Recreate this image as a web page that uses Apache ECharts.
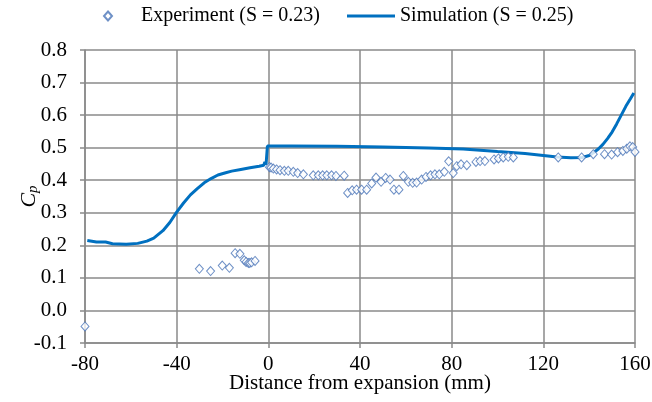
<!DOCTYPE html>
<html>
<head>
<meta charset="utf-8">
<script src="https://cdn.jsdelivr.net/npm/echarts@6/dist/echarts.min.js"></script>
<style>html,body{margin:0;padding:0;background:#fff}#c{width:652px;height:402px}</style>
</head>
<body>
<div id="c"></div>
<script>
// Experiment (S = 0.23)
const expX = [-80, -30.1, -25.2, -20.1, -17.0, -14.5, -12.4, -10.5, -9.7, -8.7, -8.1, -7.3, -5.8,
  0.5, 1.2, 2.2, 3.6, 5.1, 7.0, 8.7, 10.9, 12.8, 15.3,
  19.6, 21.8, 23.7, 25.5, 27.6, 29.5, 33.1,
  34.6, 36.6, 38.5, 40.7, 42.9, 45.1, 47.0, 49.2, 51.2, 53.1, 54.8, 57.0,
  58.9, 61.1, 63.0, 64.7, 66.9, 68.8, 70.8, 72.7, 74.6, 76.8, 78.7, 80.7, 82.2, 84.1, 86.6,
  90.6, 92.4, 94.5, 98.5, 100.4, 102.5, 104.7, 106.9,
  126.5, 136.7, 141.8, 146.7, 149.8, 152.4, 154.7, 156.4, 157.8, 159.0, 160.0];
const expY = [-0.049, 0.128, 0.121, 0.138, 0.131, 0.176, 0.174, 0.154, 0.149, 0.146, 0.146, 0.148, 0.152,
  0.440, 0.439, 0.436, 0.433, 0.431, 0.429, 0.429, 0.426, 0.422, 0.418,
  0.415, 0.415, 0.415, 0.415, 0.415, 0.413, 0.414,
  0.361, 0.369, 0.371, 0.371, 0.371, 0.390, 0.408, 0.395, 0.407, 0.402, 0.371, 0.371,
  0.413, 0.395, 0.392, 0.393, 0.402, 0.410, 0.415, 0.418, 0.418, 0.426, 0.458, 0.422, 0.443, 0.449, 0.446,
  0.456, 0.459, 0.459, 0.464, 0.467, 0.470, 0.472, 0.470,
  0.470, 0.470, 0.480, 0.480, 0.479, 0.486, 0.490, 0.497, 0.504, 0.502, 0.487];

// Simulation (S = 0.25)
const simX = [-79, -75, -71, -68, -62, -57, -53, -50, -46, -43, -40, -37, -34, -31, -28, -25, -22, -19, -16, -12, -8, -4, -2, -1.5, -1, -0.6, -0.4,
  10, 30, 50, 70, 85, 100, 112, 120, 126, 132, 137, 140, 142, 144, 146, 148, 150, 152, 154, 156, 158, 159.5];
const simY = [0.215, 0.210, 0.210, 0.205, 0.203, 0.206, 0.213, 0.222, 0.245, 0.270, 0.302, 0.330, 0.355, 0.374, 0.392, 0.405, 0.416, 0.422, 0.428, 0.433, 0.438, 0.443, 0.446, 0.456, 0.448, 0.450, 0.505,
  0.505, 0.504, 0.502, 0.499, 0.496, 0.488, 0.482, 0.476, 0.471, 0.469, 0.470, 0.476, 0.485, 0.496, 0.510, 0.528, 0.548, 0.573, 0.600, 0.627, 0.650, 0.668];

const xTicks = [-80, -40, 0, 40, 80, 120, 160];
const yTicks = [-0.1, 0.0, 0.1, 0.2, 0.3, 0.4, 0.5, 0.6, 0.7, 0.8];

const FONT = 'Liberation Serif';
const GRID = '#8a8a8a';
const chart = echarts.init(document.getElementById('c'), null, {renderer: 'canvas'});
chart.setOption({
  animation: false,
  backgroundColor: '#fff',
  textStyle: {fontFamily: FONT},
  legend: [
    {data: ['Experiment (S = 0.23)'], left: 98, top: 1, icon: 'diamond', itemWidth: 8, itemHeight: 9,
     textStyle: {fontFamily: FONT, fontSize: 20, color: '#000', padding: [0, 0, 0, 24]}},
    {data: [{name: 'Simulation (S = 0.25)', icon: 'rect'}], left: 342, top: 1, itemWidth: 48, itemHeight: 3,
     textStyle: {fontFamily: FONT, fontSize: 20, color: '#000', padding: [0, 0, 0, 0]}}
  ],
  grid: {left: 85, right: 17, top: 50, bottom: 59, containLabel: false, outerBoundsMode: 'none'},
  xAxis: {
    type: 'value', min: xTicks[0], max: xTicks[xTicks.length - 1], interval: 40,
    name: 'Distance from expansion (mm)', nameLocation: 'middle', nameGap: 30, nameMoveOverlap: false,
    nameTextStyle: {fontFamily: FONT, fontSize: 21, color: '#000'},
    axisLine: {show: true, onZero: false, lineStyle: {color: GRID, width: 1.5}},
    axisTick: {show: true, inside: false, length: 5, lineStyle: {color: GRID, width: 1.5}},
    axisLabel: {fontFamily: FONT, fontSize: 21, color: '#000', margin: 11, formatter: v => String(Math.round(v))},
    splitLine: {show: true, lineStyle: {color: GRID, width: 1.5}}
  },
  yAxis: {
    type: 'value', min: yTicks[0], max: yTicks[yTicks.length - 1], interval: 0.1,
    name: '{c|C}{p|p}', nameLocation: 'middle', nameGap: 44, nameRotate: 90, nameMoveOverlap: false,
    nameTextStyle: {rich: {
      c: {fontFamily: FONT, fontSize: 22, fontStyle: 'italic', color: '#000'},
      p: {fontFamily: FONT, fontSize: 15, fontStyle: 'italic', color: '#000', verticalAlign: 'bottom', padding: [9, 0, 0, 0]}
    }},
    axisLine: {show: true, onZero: false, lineStyle: {color: GRID, width: 1.5}},
    axisTick: {show: true, inside: false, length: 5, lineStyle: {color: GRID, width: 1.5}},
    axisLabel: {fontFamily: FONT, fontSize: 21, color: '#000', margin: 18,
      formatter: v => (Math.abs(v) < 1e-9 ? '0.0' : v.toFixed(1))},
    splitLine: {show: true, lineStyle: {color: GRID, width: 1.5}}
  },
  series: [
    {
      name: 'Experiment (S = 0.23)', type: 'scatter', symbol: 'diamond', symbolSize: [8, 9],
      itemStyle: {color: '#ffffff', borderColor: '#4a74b8', borderWidth: 1},
      data: expX.map((x, i) => [x, expY[i]]), z: 3
    },
    {
      name: 'Simulation (S = 0.25)', type: 'line', showSymbol: false, symbol: 'none', smooth: false,
      lineStyle: {color: '#0070c0', width: 3}, itemStyle: {color: '#0070c0'},
      data: simX.map((x, i) => [x, simY[i]]), z: 2
    }
  ]
});
</script>
</body>
</html>
